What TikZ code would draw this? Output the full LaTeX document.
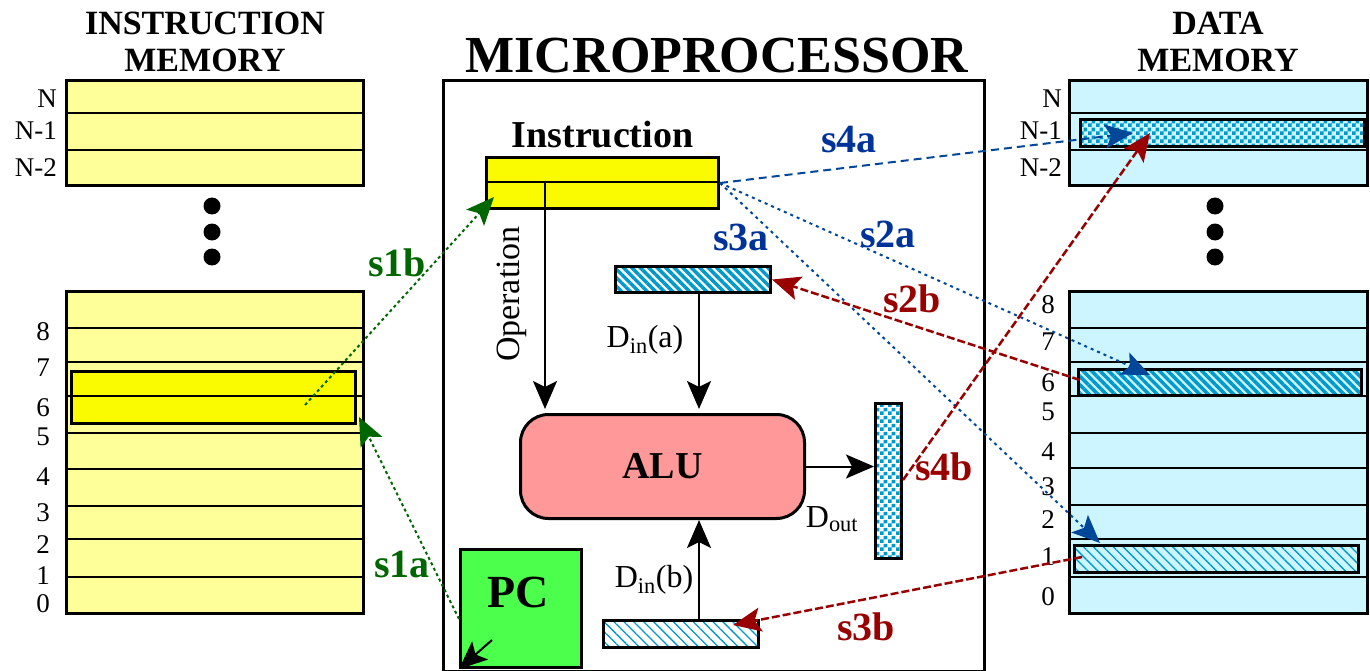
\documentclass[tikz,border=0pt]{standalone}
\usepackage{fontspec}
\setmainfont{Liberation Serif}
\usepackage{xcolor}
\usepackage{tikz}
\usetikzlibrary{arrows.meta,positioning,patterns,patterns.meta}

\definecolor{memyellow}{RGB}{255,255,153}
\definecolor{regyellow}{RGB}{250,250,0}
\definecolor{memcyan}{RGB}{204,245,255}
\definecolor{hatchblue}{RGB}{0,153,204}
\definecolor{alupink}{RGB}{255,153,153}
\definecolor{pcgreen}{RGB}{76,255,76}
\definecolor{sgreen}{RGB}{0,102,0}
\definecolor{sblue}{RGB}{0,71,153}
\definecolor{slabblue}{RGB}{0,51,153}
\definecolor{sred}{RGB}{153,0,0}

\newcommand{\fsz}[1]{\fontsize{#1}{#1}\selectfont}

% blue/white checker for the output registers
\pgfdeclarepatternformonly{blockcheck}{\pgfpointorigin}{\pgfpoint{8pt}{8pt}}{\pgfpoint{8pt}{8pt}}{%
  \pgfpathrectangle{\pgfpointorigin}{\pgfpoint{4pt}{4pt}}%
  \pgfpathrectangle{\pgfpoint{4pt}{4pt}}{\pgfpoint{4pt}{4pt}}%
  \pgfusepath{fill}}

\begin{document}
\begin{tikzpicture}[
  x=1pt, y=-1pt,
  box/.style={draw, line width=3pt, inner sep=0pt, anchor=north west},
  rowline/.style={line width=2.5pt},
  memtitle/.style={font=\fsz{34}\bfseries, align=center, inner sep=0pt},
  addr/.style={font=\fsz{27}, inner sep=0pt},
  slab/.style={font=\fsz{40}\bfseries, inner sep=0pt},
  hatch/.style={fill=white, pattern={Lines[angle=-45,distance=6pt,line width=3.5pt]}, pattern color=hatchblue},
  lighthatch/.style={fill=white, pattern={Lines[angle=-45,distance=7pt,line width=1.3pt]}, pattern color=hatchblue},
  checker/.style={fill=white, pattern=blockcheck, pattern color=hatchblue},
  sig/.style={line width=2pt, -{Stealth[length=28pt,width=24pt,inset=6pt]}},
  gline/.style={sig, sgreen, dash pattern=on 3pt off 3pt},
  bdot/.style={sig, sblue, dash pattern=on 3pt off 4pt},
  bdash/.style={sig, sblue, dash pattern=on 8pt off 5pt},
  rdash/.style={sig, sred, line width=2.5pt, dash pattern=on 8pt off 3pt},
]
\useasboundingbox (0,0) rectangle (1370,671);

% instruction memory
\node[memtitle] (imtitle) at (205,42) {INSTRUCTION\\[3pt]MEMORY};
\node[box, fill=memyellow, minimum width=297pt, minimum height=105pt] (imtop) at (65,79) {};
\foreach \y in {113,150}
  \draw[rowline] (imtop.west |- 0,\y) -- (imtop.east |- 0,\y);
\foreach \t/\y in {N/99,N-1/131,N-2/168}
  \node[addr, anchor=east] (il\y) at (57,\y) {\t};
\foreach \y in {206,232,257}
  \fill (212,\y) circle[radius=8.5pt];
\node[box, fill=memyellow, minimum width=297pt, minimum height=322pt] (imbot) at (65,290) {};
\node[box, fill=regyellow, minimum width=284pt, minimum height=52pt] (imsel) at (70,370) {};
\foreach \y in {328,362,396,433,469,506,539,577}
  \draw[rowline] (imbot.west |- 0,\y) -- (imbot.east |- 0,\y);
\foreach \t/\y in {8/332,7/368,6/408,5/437,4/477,3/513,2/545,1/576,0/604}
  \node[addr] (il\y) at (43,\y) {\t};

% data memory
\node[memtitle] (dmtitle) at (1218,42) {DATA\\[3pt]MEMORY};
\node[box, fill=memcyan, minimum width=298pt, minimum height=105pt] (dmtop) at (1068,79) {};
\foreach \y in {113,150}
  \draw[rowline] (dmtop.west |- 0,\y) -- (dmtop.east |- 0,\y);
\node[box, checker, minimum width=284pt, minimum height=27pt] (dmn1) at (1079,118) {};
\foreach \t/\y in {N/99,N-1/131,N-2/168}
  \node[addr, anchor=east] (dl\y) at (1062,\y) {\t};
\foreach \y in {206,232,257}
  \fill (1215,\y) circle[radius=8.5pt];
\node[box, fill=memcyan, minimum width=298pt, minimum height=322pt] (dmbot) at (1068,290) {};
\foreach \y in {328,362,396,433,468,505,539,577}
  \draw[rowline] (dmbot.west |- 0,\y) -- (dmbot.east |- 0,\y);
\node[box, hatch, minimum width=283pt, minimum height=26pt] (dm6) at (1077,368) {};
\node[box, lighthatch, minimum width=284pt, minimum height=27pt] (dm1) at (1074,545) {};
\foreach \t/\y in {8/305,7/342,6/383,5/412,4/452,3/487,2/520,1/557,0/597}
  \node[addr] (dl\y) at (1048,\y) {\t};

% microprocessor
\node[font=\fsz{52}\bfseries, inner sep=0pt] (cputitle) at (717,56) {MICROPROCESSOR};
\node[box, minimum width=541pt, minimum height=591pt] (cpu) at (442,79) {};

\node[box, fill=regyellow, minimum width=232pt, minimum height=51pt] (ireg) at (485,156) {};
\node[font=\fsz{38}\bfseries, inner sep=0pt, above=8pt of ireg] (iregname) {Instruction};
\draw[rowline] (ireg.west |- 0,182) -- (ireg.east |- 0,182);
\coordinate (opsrc) at (545,182);
\coordinate (dcol) at (699,0);

\node[box, hatch, minimum width=155pt, minimum height=26pt] (areg) at (614,265) {};
\node[draw, line width=3pt, fill=alupink, rounded corners=28pt, inner sep=0pt, anchor=north west,
      minimum width=284pt, minimum height=104pt, font=\fsz{38}\bfseries] (alu) at (519,413) {ALU};
\node[box, checker, minimum width=26pt, minimum height=155pt] (dout) at (874,402) {};
\node[box, lighthatch, minimum width=155pt, minimum height=27pt] (breg) at (602,619) {};
\node[box, fill=pcgreen, minimum width=121pt, minimum height=118pt] (pc) at (459,548) {};
\node[font=\fsz{46}\bfseries, inner sep=0pt] (pcname) at (518,592) {PC};

\draw[sig, shorten >=4pt] (opsrc) -- (opsrc |- alu.north);
\draw[sig, shorten >=4pt] (areg.south -| dcol) -- (alu.north -| dcol);
\draw[sig] (breg.north -| dcol) -- (alu.south -| dcol);
\draw[sig] (alu.east) -- (dout.west |- alu.east);
\coordinate (pcin) at (492,640);
\draw[sig] (pcin) -- (pc.south west);

\node[font=\fsz{34}, rotate=90, inner sep=0pt] (oplab) at (512,294) {Operation};
\node[font=\fsz{32}, inner sep=0pt] (dinalab) at (645,340) {D\textsubscript{in}(a)};
\node[font=\fsz{32}, inner sep=0pt] (dinblab) at (654,580) {D\textsubscript{in}(b)};
\node[font=\fsz{32}, inner sep=0pt] (doutlab) at (832,519) {D\textsubscript{out}};

% signal paths
\coordinate (s1b-from) at (305,405);
\coordinate (s1b-to) at (494,197);
\coordinate (s1a-from) at (pc.west |- 0,619);
\coordinate (s1a-to) at (359,417);
\coordinate (s4a-to) at (1133,133);
\coordinate (s2a-to) at (1150,375);
\coordinate (s3a-to) at (1100,543);
\coordinate (s4b-from) at (dout.east |- 0,480);
\coordinate (s4b-to) at (1150,133);
\coordinate (s2b-from) at (1080,380);
\coordinate (s3b-from) at (1082,557);
\coordinate (s3b-to) at (733,625);

\draw[gline] (s1b-from) -- (s1b-to);
\draw[gline] (s1a-from) -- (s1a-to);
\draw[bdash] (ireg.east) -- (s4a-to);
\draw[bdot] (ireg.east) -- (s2a-to);
\draw[bdot] (ireg.east) -- (s3a-to);
\draw[rdash] (s4b-from) -- (s4b-to);
\draw[rdash] (s2b-from) -- (areg.east);
\draw[rdash] (s3b-from) -- (s3b-to);

\node[slab, sgreen] (s1blab) at (397,263) {s1b};
\node[slab, sgreen] (s1alab) at (402,564) {s1a};
\node[slab, slabblue] (s4alab) at (849,140) {s4a};
\node[slab, slabblue] (s2alab) at (888,234) {s2a};
\node[slab, slabblue] (s3alab) at (741,237) {s3a};
\node[slab, sred] (s2blab) at (912,299) {s2b};
\node[slab, sred] (s4blab) at (944,467) {s4b};
\node[slab, sred] (s3blab) at (866,627) {s3b};

\end{tikzpicture}
\end{document}
